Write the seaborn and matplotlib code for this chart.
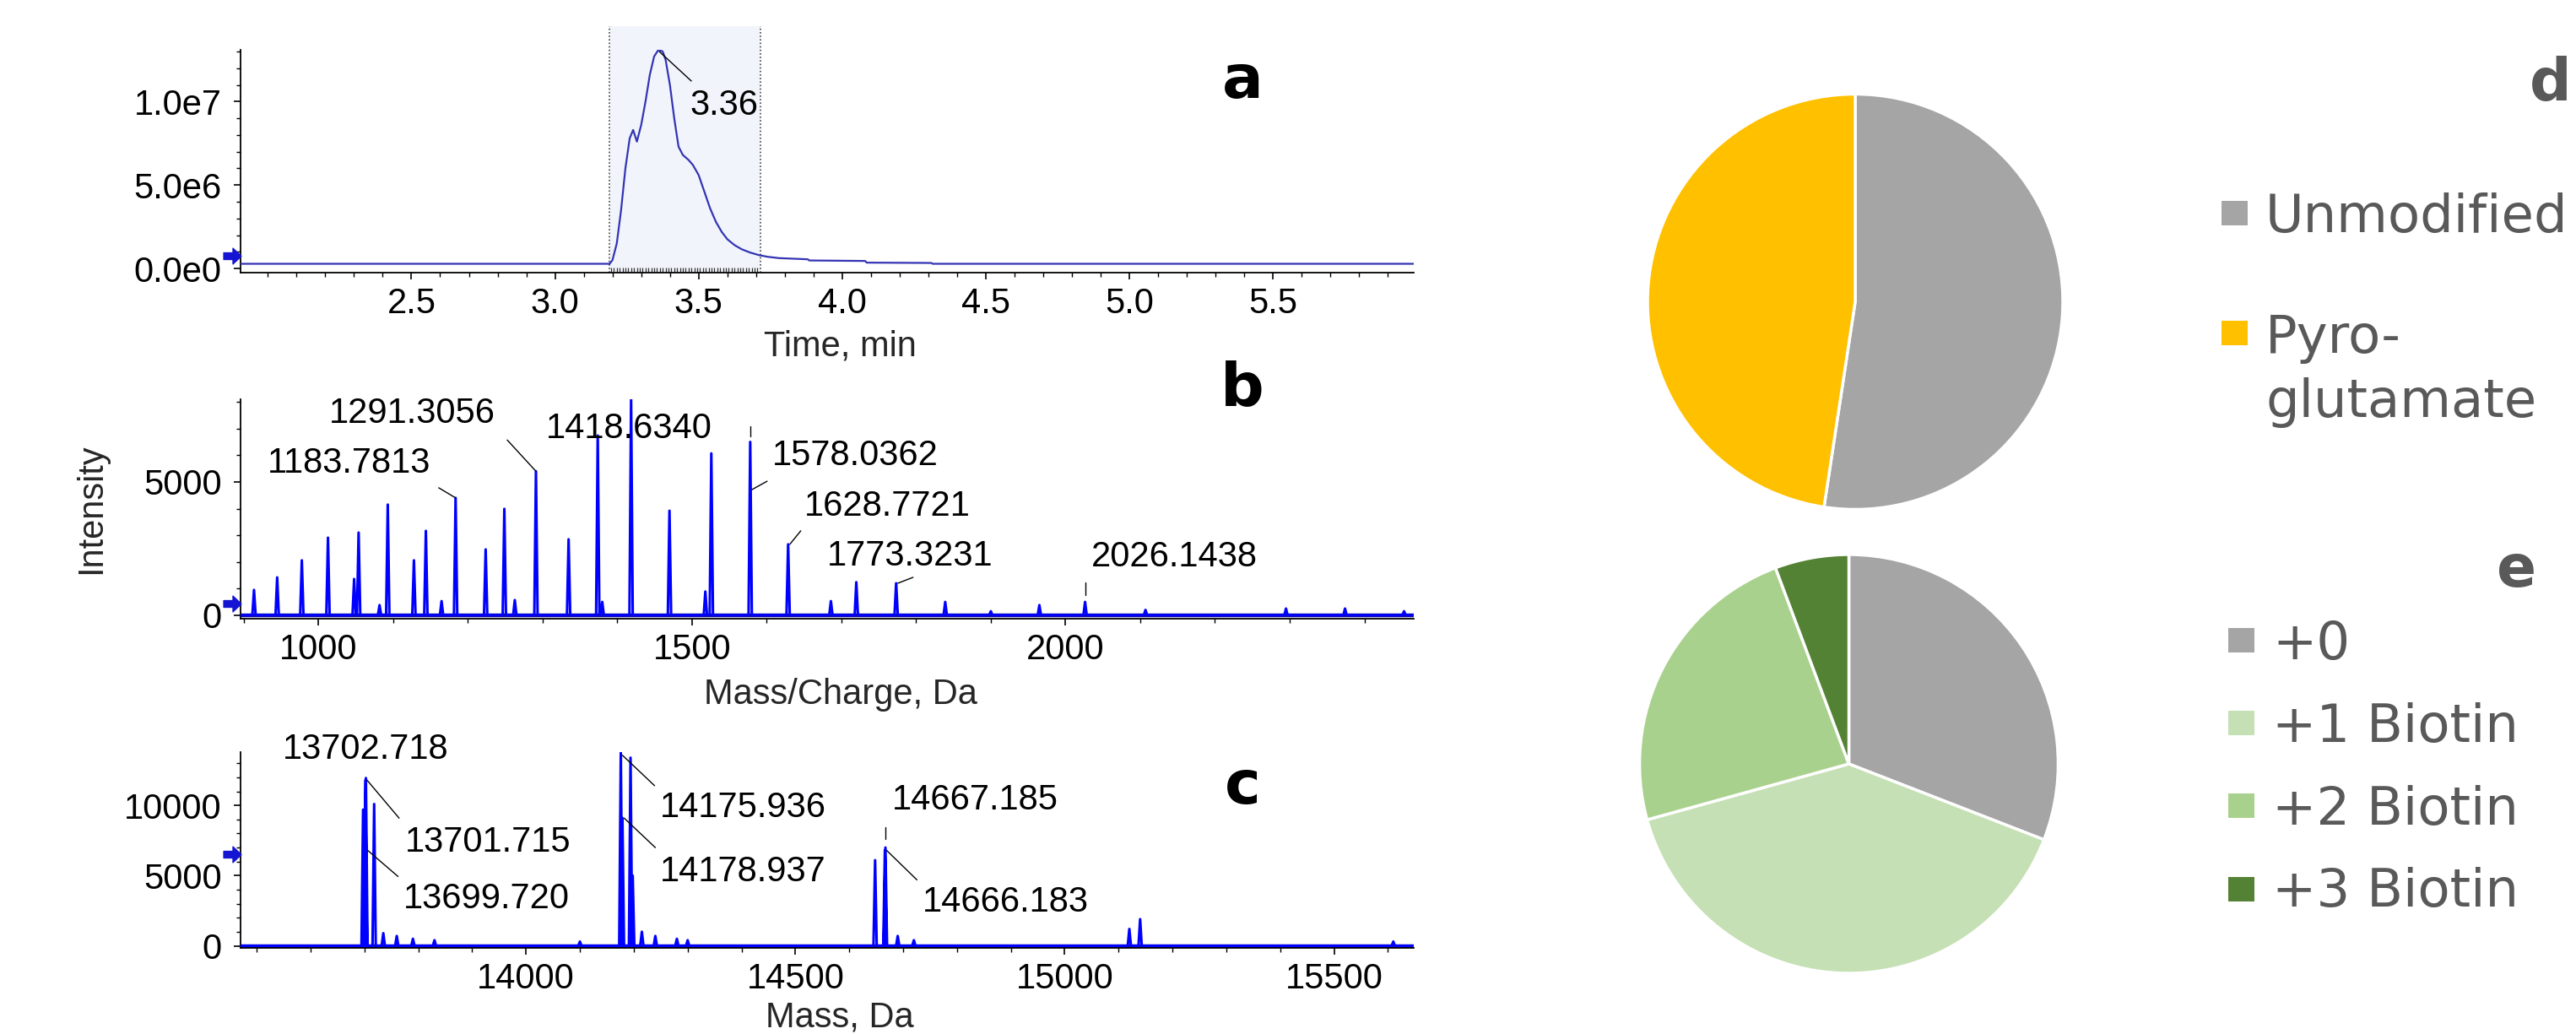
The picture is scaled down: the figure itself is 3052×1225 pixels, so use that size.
import numpy as np
import pandas as pd
import seaborn as sns
import matplotlib.pyplot as plt
from matplotlib.patches import Rectangle
from matplotlib.path import Path
from matplotlib.ticker import MultipleLocator
from matplotlib.transforms import blended_transform_factory

# ---------------- data ----------------
# a: total ion chromatogram (time in min, intensity in counts)
tic_time = [1.905, 3.19, 3.20, 3.215, 3.23, 3.245, 3.26, 3.272, 3.285, 3.30, 3.315,
            3.33, 3.345, 3.36, 3.375, 3.385, 3.40, 3.415, 3.43, 3.445, 3.465, 3.48,
            3.50, 3.52, 3.54, 3.56, 3.58, 3.60, 3.625, 3.65, 3.68, 3.71, 3.74, 3.78,
            3.88, 3.885, 4.08, 4.085, 4.31, 4.315, 5.99]
tic_intensity = [0.28e6, 0.28e6, 0.5e6, 1.5e6, 3.5e6, 6.0e6, 7.8e6, 8.3e6, 7.6e6, 8.6e6,
                 10.0e6, 11.6e6, 12.7e6, 13.1e6, 13.0e6, 12.5e6, 11.0e6, 9.0e6, 7.3e6,
                 6.8e6, 6.5e6, 6.2e6, 5.6e6, 4.6e6, 3.6e6, 2.8e6, 2.2e6, 1.75e6, 1.4e6,
                 1.15e6, 0.95e6, 0.8e6, 0.7e6, 0.62e6, 0.55e6, 0.48e6, 0.45e6, 0.35e6,
                 0.33e6, 0.28e6, 0.28e6]
tic_apex = 3.36
tic_window = [3.19, 3.715]

# b: charge-state envelope (m/z, intensity)
mz_values = [914, 945, 978, 1013, 1048, 1054, 1082, 1093, 1128, 1144, 1165, 1183.7813,
             1224, 1249, 1263, 1291.3056, 1335, 1374, 1380, 1418.6340, 1470, 1518, 1526,
             1578.0362, 1628.7721, 1686, 1720, 1773.3231, 1839, 1900, 1965, 2026.1438,
             2107, 2295, 2374, 2453]
mz_heights = [950, 1420, 2060, 2910, 1360, 3100, 380, 4150, 2060, 3165, 530, 4400,
              2470, 3990, 570, 5400, 2850, 6740, 500, 8100, 3920, 890, 6070,
              6500, 2660, 530, 1240, 1200, 500, 150, 380, 500,
              200, 250, 250, 150]
mz_labelled = [1183.7813, 1291.3056, 1418.6340, 1578.0362, 1628.7721, 1773.3231, 2026.1438]

# c: deconvoluted intact mass (Da, intensity)
mass_values = [13697.5, 13699.720, 13701.715, 13702.718, 13718, 13735, 13760, 13790, 13830,
               14100, 14175.936, 14178.937, 14194, 14198, 14215, 14240, 14280, 14300,
               14648, 14666.183, 14667.185, 14690, 14720, 15120, 15140, 15610]
mass_heights = [9700, 6800, 11800, 11950, 10100, 900, 700, 500, 400,
                300, 13750, 9100, 13400, 5000, 1000, 700, 500, 400,
                6100, 6800, 7000, 700, 400, 1200, 1900, 300]
mass_labelled = [13702.718, 13701.715, 13699.720, 14175.936, 14178.937, 14667.185, 14666.183]

# d: N-terminal modification
mod_names = ["Unmodified", "Pyro-\nglutamate"]
mod_share = [52.4, 47.6]
# e: biotin load
biotin_names = ["+0", "+1 Biotin", "+2 Biotin", "+3 Biotin"]
biotin_share = [30.9, 39.8, 23.6, 5.7]

# ---------------- style ----------------
W, H = 3052, 1225
sns.set_theme(style="ticks")
plt.rcParams["font.family"] = ["Liberation Sans", "DejaVu Sans"]
plt.rcParams["axes.linewidth"] = 1.3
FS = 30

fig = plt.figure(figsize=(W / 100, H / 100), dpi=100)
fig.patch.set_facecolor("white")

# block arrow used as the baseline marker
ARROW = Path([(-1.0, -0.38), (0.05, -0.38), (0.05, -0.9), (1.0, 0.0),
              (0.05, 0.9), (0.05, 0.38), (-1.0, 0.38), (-1.0, -0.38)],
             [Path.MOVETO] + [Path.LINETO] * 6 + [Path.CLOSEPOLY])


def px_axes(left, top, right, bottom):
    return fig.add_axes([left / W, 1 - bottom / H, (right - left) / W, (bottom - top) / H])


def style_axis(ax):
    for s in ("top", "right"):
        ax.spines[s].set_visible(False)
    for s in ("left", "bottom"):
        ax.spines[s].set_color("black")
    ax.set_facecolor("none")
    ax.tick_params(which="major", length=6, width=1.2, color="black",
                   labelsize=FS, labelcolor="black")
    ax.tick_params(axis="x", which="major", pad=6)
    ax.tick_params(axis="y", which="major", pad=10)
    ax.tick_params(which="minor", length=3.5, width=1.0, color="black")
    ax.grid(False)


def blue_arrow(ax, yval):
    tr = blended_transform_factory(ax.transAxes, ax.transData)
    ax.plot([-0.007], [yval], marker=ARROW, ms=15, color="#1414d2", mec="#1414d2",
            transform=tr, clip_on=False, zorder=5)


def spike_profile(xs, hs, half_width, lo, hi):
    px, py = [lo], [0.0]
    for x, h in sorted(zip(xs, hs)):
        px += [x - half_width, x, x + half_width]
        py += [0.0, h, 0.0]
    px.append(hi)
    py.append(0.0)
    return pd.DataFrame({"x": px, "y": py})


def seg(ax, x, y, p0, p1):
    # short leader segment between two pixel offsets from a data point
    base = ax.transData.transform((x, y))
    inv = ax.transData.inverted()
    a = inv.transform((base[0] + p0[0], base[1] + p0[1]))
    b = inv.transform((base[0] + p1[0], base[1] + p1[1]))
    ax.plot([a[0], b[0]], [a[1], b[1]], color="black", lw=1.0, zorder=4, clip_on=False)


def label(ax, x, y, text, off):
    ax.annotate(text, xy=(x, y), xytext=off, textcoords="offset pixels",
                ha="center", va="center", fontsize=FS, color="black", zorder=6)


# ---------------- a: chromatogram ----------------
ax_a = px_axes(285, 59, 1675, 323)
style_axis(ax_a)
ax_a.set_xlim(1.905, 5.99)
ax_a.set_ylim(-0.25e6, 13.1e6)
ax_a.axvspan(tic_window[0], tic_window[1], ymin=0, ymax=(14.5e6 + 0.25e6) / 13.35e6,
             color="#F1F5FB", zorder=0, clip_on=False, lw=0)
ax_a.vlines(tic_window, -0.25e6, 14.5e6, colors="#444444", linestyles=(0, (1, 1.5)),
            lw=1.2, clip_on=False, zorder=1)
ax_a.vlines(np.arange(tic_window[0] + 0.005, tic_window[1], 0.01), -0.25e6, 0.05e6,
            colors="#333333", lw=0.9, zorder=1)
sns.lineplot(x=tic_time, y=tic_intensity, sort=False, estimator=None, ax=ax_a,
             color="#3434B4", lw=1.6, zorder=3)
ax_a.set_xticks([2.5, 3.0, 3.5, 4.0, 4.5, 5.0, 5.5])
ax_a.set_xticklabels(["2.5", "3.0", "3.5", "4.0", "4.5", "5.0", "5.5"])
ax_a.xaxis.set_minor_locator(MultipleLocator(0.1))
ax_a.set_yticks([0, 5e6, 1e7])
ax_a.set_yticklabels(["0.0e0", "5.0e6", "1.0e7"])
ax_a.yaxis.set_minor_locator(MultipleLocator(1e6))
ax_a.set_xlabel("Time, min", fontsize=FS)
ax_a.xaxis.set_label_coords(0.511, -0.255)
ax_a.set_ylabel("")
blue_arrow(ax_a, 0.76e6)
apex_i = tic_intensity[tic_time.index(tic_apex)]
seg(ax_a, tic_apex, apex_i, (1, -2), (39, -37))
label(ax_a, tic_apex, apex_i, f"{tic_apex:.2f}", (78, -66))

# ---------------- b: m/z spectrum ----------------
ax_b = px_axes(285, 473, 1675, 733)
style_axis(ax_b)
ax_b.set_xlim(896, 2466)
ax_b.set_ylim(-130, 8100)
ax_b.axhline(0, color="#10108c", lw=3.2, zorder=2)
prof_b = spike_profile(mz_values, mz_heights, 2.2, 896, 2466)
sns.lineplot(data=prof_b, x="x", y="y", sort=False, estimator=None, ax=ax_b,
             color="#0000FF", lw=2.2, zorder=3)
ax_b.set_xticks([1000, 1500, 2000])
ax_b.xaxis.set_minor_locator(MultipleLocator(100))
ax_b.set_yticks([0, 5000])
ax_b.yaxis.set_minor_locator(MultipleLocator(1000))
ax_b.set_xlabel("Mass/Charge, Da", fontsize=FS)
ax_b.xaxis.set_label_coords(0.5115, -0.268)
ax_b.set_ylabel("Intensity", fontsize=FS)
ax_b.yaxis.set_label_coords(-0.113, 0.50)
blue_arrow(ax_b, 440)

hb = dict(zip(mz_values, mz_heights))
b_text_off = {1183.7813: (-126, 41), 1291.3056: (-147, 68), 1418.6340: (-2, -35),
              1578.0362: (124, -16), 1628.7721: (118, 45), 1773.3231: (16, 32),
              2026.1438: (106, 53)}
for mz in mz_labelled:
    label(ax_b, mz, hb[mz], f"{mz:.4f}", b_text_off[mz])
seg(ax_b, 1183.7813, hb[1183.7813], (0, 0), (-20, 12))
seg(ax_b, 1291.3056, hb[1291.3056], (0, 0), (-34, 37))
seg(ax_b, 1578.0362, hb[1578.0362], (0, 7), (0, 19))
seg(ax_b, 1578.0362, 4710, (2, 0), (20, 10))
seg(ax_b, 1628.7721, hb[1628.7721], (2, 0), (15, 16))
seg(ax_b, 1773.3231, hb[1773.3231], (2, 0), (20, 7))
seg(ax_b, 2026.1438, hb[2026.1438], (0, 8), (0, 23))

# ---------------- c: deconvoluted mass ----------------
ax_c = px_axes(285, 891, 1675, 1123)
style_axis(ax_c)
ax_c.set_xlim(13470, 15648)
ax_c.set_ylim(-150, 13800)
ax_c.axhline(0, color="#10108c", lw=3.2, zorder=2)
prof_c = spike_profile(mass_values, mass_heights, 3.0, 13470, 15648)
sns.lineplot(data=prof_c, x="x", y="y", sort=False, estimator=None, ax=ax_c,
             color="#0000FF", lw=2.2, zorder=3)
ax_c.set_xticks([14000, 14500, 15000, 15500])
ax_c.xaxis.set_minor_locator(MultipleLocator(100))
ax_c.set_yticks([0, 5000, 10000])
ax_c.yaxis.set_minor_locator(MultipleLocator(1000))
ax_c.set_xlabel("Mass, Da", fontsize=FS)
ax_c.xaxis.set_label_coords(0.511, -0.27)
ax_c.set_ylabel("")
blue_arrow(ax_c, 6525)

hc = dict(zip(mass_values, mass_heights))
c_text_off = {13702.718: (0, 34), 13701.715: (145, -74), 13699.720: (145, -58),
              14175.936: (145, -65), 14178.937: (143, -64),
              14667.185: (106, 56), 14666.183: (143, -62)}
for m in mass_labelled:
    label(ax_c, m, hc[m], f"{m:.3f}", c_text_off[m])
seg(ax_c, 13701.715, hc[13701.715], (2, 0), (40, -45))
seg(ax_c, 13699.720, hc[13699.720], (4, 0), (40, -31))
seg(ax_c, 14175.936, hc[14175.936], (2, -3), (40, -39))
seg(ax_c, 14178.937, hc[14178.937], (2, 0), (39, -35))
seg(ax_c, 14667.185, hc[14667.185], (0, 10), (0, 24))
seg(ax_c, 14666.183, hc[14666.183], (2, 0), (38, -35))

# panel letters a-c
for letter, ybase in (("a", 116), ("b", 480), ("c", 952)):
    fig.text(1472 / W, 1 - ybase / H, letter, ha="center", va="baseline",
             fontsize=52, fontweight="bold", family="DejaVu Sans", color="black")

# ---------------- d / e: pies ----------------
pie_edge = dict(edgecolor="white", linewidth=2.5)
mod_colors = ["#A5A5A5", "#FFC000"]
biotin_colors = ["#A5A5A5", "#C5E0B4", "#A9D18E", "#548235"]

ax_d = px_axes(1952, 111.5, 2444, 603.5)
ax_d.pie(mod_share, colors=mod_colors, startangle=90, counterclock=False,
         wedgeprops=pie_edge, radius=1.0)
ax_d.set_xlim(-1.0, 1.0)
ax_d.set_ylim(-1.0, 1.0)
ax_d.set_aspect("equal")
ax_d.axis("off")

ax_e = px_axes(1942.5, 657, 2438.5, 1153)
ax_e.pie(biotin_share, colors=biotin_colors, startangle=90, counterclock=False,
         wedgeprops=pie_edge, radius=1.0)
ax_e.set_xlim(-1.0, 1.0)
ax_e.set_ylim(-1.0, 1.0)
ax_e.set_aspect("equal")
ax_e.axis("off")

grey_txt = "#595959"
LFS = 45


def legend_entry(x_sq, y_sq_top, color, x_txt, y_base, text):
    fig.add_artist(Rectangle((x_sq / W, 1 - (y_sq_top + 29) / H), 31 / W, 29 / H,
                             transform=fig.transFigure, facecolor=color, edgecolor="none"))
    fig.text(x_txt / W, 1 - y_base / H, text, ha="left", va="baseline",
             fontsize=LFS, family="DejaVu Sans", color=grey_txt)


legend_entry(2632, 238, mod_colors[0], 2684, 275, mod_names[0])
first, second = mod_names[1].split("\n")
legend_entry(2632, 380, mod_colors[1], 2684, 418, first)
fig.text(2684 / W, 1 - 494 / H, second, ha="left", va="baseline",
         fontsize=LFS, family="DejaVu Sans", color=grey_txt)

for name, col, sq_top, base in zip(biotin_names, biotin_colors,
                                    [744, 842, 940, 1039], [781, 879, 977, 1074]):
    legend_entry(2640, sq_top, col, 2692, base, name)

fig.text(3022 / W, 1 - 119 / H, "d", ha="center", va="baseline", fontsize=50,
         fontweight="bold", family="DejaVu Sans", color=grey_txt)
fig.text(2982 / W, 1 - 695 / H, "e", ha="center", va="baseline", fontsize=50,
         fontweight="bold", family="DejaVu Sans", color=grey_txt)

fig.savefig("out.png", dpi=100, facecolor="white")
